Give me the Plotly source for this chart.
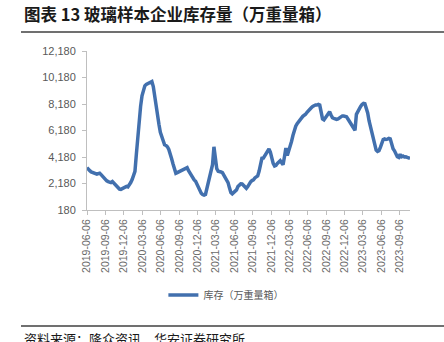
import plotly.graph_objects as go
import pandas as pd

# Weekly inventory (万重量箱), starting 2019-06-06
start_date = "2019-06-06"
inventory = [
    3380, 3300, 3150, 3050, 3000, 2950, 2900, 2880, 2920, 2960,
    2850, 2720, 2600, 2480, 2380, 2320, 2300, 2250, 2320, 2200,
    2050, 1950, 1880, 1760, 1740, 1790, 1850, 1930, 1960, 1920,
    2050, 2250, 2480, 2750, 3100, 4400, 5900, 7000, 8000, 8800,
    9300, 9550, 9650, 9700, 9750, 9800, 9880, 9500, 8700, 7950,
    7250, 6650, 6050, 5650, 5250, 5100, 5050, 4950, 4750, 4450,
    4050, 3650, 3200, 2950, 3000, 3050, 3100, 3150, 3250, 3300,
    3350, 3380, 3150, 2950, 2750, 2600, 2450, 2350, 2100, 1950,
    1700, 1450, 1350, 1300, 1350, 1800, 2200, 2650, 3050, 3600,
    4950, 4000, 3300, 3100, 3100, 3050, 3000, 2800, 2550, 2400,
    2250, 1850, 1500, 1400, 1500, 1600, 1700, 1950, 2100, 2150,
    2140, 2050, 1900, 1820, 1950, 2150, 2300, 2400, 2450, 2600,
    2700, 2750, 3100, 3650, 4080, 4100, 4300, 4450, 4700, 4780,
    4550, 4100, 3700, 3500, 3550, 3700, 3800, 3900, 3750, 3600,
    4200, 4850, 4300, 4600, 5000, 5350, 5800, 6200, 6500, 6700,
    6850, 6970, 7100, 7250, 7330, 7400, 7550, 7700, 7850, 7900,
    8000, 8080, 8110, 8100, 8150, 8100, 7600, 7050, 6980, 7150,
    7250, 7450, 7600, 7350, 7150, 7100, 7050, 7020, 7050, 7150,
    7250, 7280, 7270, 7250, 7220, 7050, 6900, 6750, 6550, 6350,
    6200, 7400, 7650, 7900, 8000, 8150, 8230, 8200, 7900, 7500,
    6900, 6400, 5900, 5650, 4900, 4700, 4600, 4650, 4900, 5300,
    5500, 5550, 5500, 5530, 5580, 5550, 5150, 4800, 4650, 4400,
    4200, 4150, 4380, 4200, 4250, 4180, 4200, 4150, 4120, 4080,
]
dates = pd.date_range(start_date, periods=len(inventory), freq="7D")

x_ticks = [
    "2019-06-06", "2019-09-06", "2019-12-06", "2020-03-06", "2020-06-06",
    "2020-09-06", "2020-12-06", "2021-03-06", "2021-06-06", "2021-09-06",
    "2021-12-06", "2022-03-06", "2022-06-06", "2022-09-06", "2022-12-06",
    "2023-03-06", "2023-06-06", "2023-09-06",
]
y_ticks = [180, 2180, 4180, 6180, 8180, 10180, 12180]
y_tick_labels = ["180", "2,180", "4,180", "6,180", "8,180", "10,180", "12,180"]

series_name = "库存（万重量箱）"
title_text = "图表 13 玻璃样本企业库存量（万重量箱）"
source_text = "资料来源：隆众资讯，华安证券研究所"

W, H = 444, 342
L, R, T, B = 87, 34, 51, 132
pw, ph = W - L - R, H - T - B


def px_x(p):
    return (p - L) / pw


def px_y(p):
    return 1 - (p - T) / ph


fig = go.Figure()
fig.add_trace(go.Scatter(
    x=dates, y=inventory, mode="lines", name=series_name,
    line=dict(color="#4270ae", width=3.5),
))

axis_col = "#bfbfbf"
tick_font = dict(family="Liberation Sans, Arial, sans-serif", size=11, color="#595959")

fig.update_layout(
    width=W, height=H,
    margin=dict(l=L, r=R, t=T, b=B),
    paper_bgcolor="white", plot_bgcolor="white",
    showlegend=True,
    legend=dict(
        orientation="h", x=0.43, xanchor="center", y=px_y(295), yanchor="middle",
        font=dict(family="Noto Sans CJK SC", size=10, color="#595959"),
        itemwidth=30, bgcolor="rgba(0,0,0,0)",
    ),
    xaxis=dict(
        type="date",
        range=[dates[0], dates[-1]],
        tickvals=x_ticks, ticktext=x_ticks,
        tickangle=-90,
        showgrid=False, zeroline=False,
        showline=True, linecolor=axis_col, linewidth=1,
        ticks="outside", ticklen=4, tickcolor=axis_col,
        tickfont=dict(family="Liberation Sans, Arial, sans-serif", size=10.5, color="#6a6a6a"),
    ),
    yaxis=dict(
        range=[180, 12180],
        tickvals=y_ticks, ticktext=y_tick_labels,
        showgrid=False, zeroline=False,
        showline=True, linecolor=axis_col, linewidth=1,
        ticks="outside", ticklen=4, tickcolor=axis_col,
        tickfont=tick_font,
        ticklabelstandoff=4,
    ),
    annotations=[
        dict(text="<b>" + title_text + "</b>", xref="paper", yref="paper",
             x=px_x(22), y=px_y(14), xanchor="left", yanchor="middle",
             showarrow=False,
             font=dict(family="Noto Sans CJK SC", size=16.5, color="#1a1a1a")),
        dict(text=source_text, xref="paper", yref="paper",
             x=px_x(22), y=px_y(338), xanchor="left", yanchor="middle",
             showarrow=False,
             font=dict(family="Noto Sans CJK SC", size=13, color="#1a1a1a")),
    ],
    shapes=[
        dict(type="line", xref="paper", yref="paper",
             x0=px_x(21), x1=px_x(444), y0=px_y(32), y1=px_y(32),
             line=dict(color="#404040", width=1.5)),
        dict(type="line", xref="paper", yref="paper",
             x0=px_x(21), x1=px_x(444), y0=px_y(326), y1=px_y(326),
             line=dict(color="#404040", width=1.5)),
    ],
)

fig.write_html("out.html")
